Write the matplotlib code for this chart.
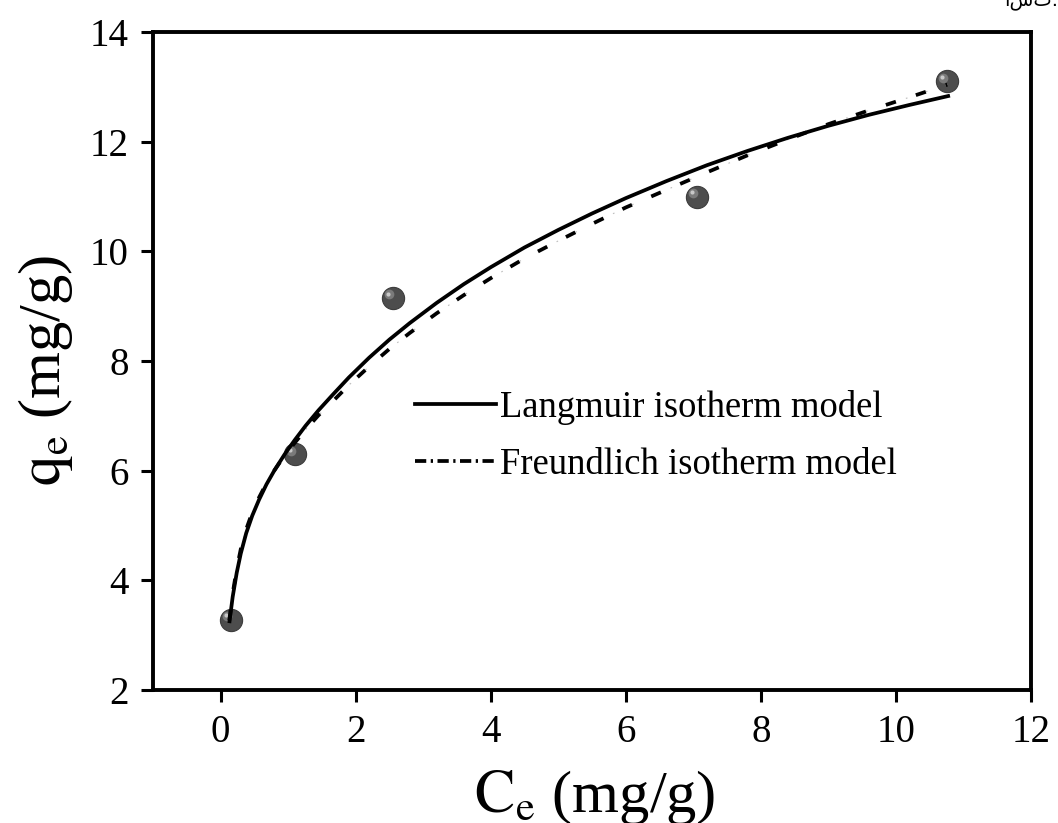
import matplotlib
matplotlib.use("Agg")
import matplotlib.pyplot as plt
import matplotlib.transforms as mtransforms
from matplotlib.lines import Line2D

# ---- data ----
ce_exp = [0.15, 1.10, 2.55, 7.05, 10.75]
qe_exp = [3.28, 6.30, 9.15, 11.00, 13.10]

ce_lang = [0.13, 0.18, 0.24, 0.30, 0.38, 0.47, 0.57, 0.68, 0.80, 0.95, 1.10,
           1.26, 1.45, 1.65, 1.90, 2.20, 2.50, 2.80, 3.20, 3.60, 4.00, 4.50,
           5.00, 5.50, 6.00, 6.60, 7.20, 7.80, 8.40, 9.00, 9.60, 10.20, 10.80]
qe_lang = [3.22, 3.70, 4.14, 4.49, 4.86, 5.18, 5.47, 5.75, 6.01, 6.30, 6.56,
           6.82, 7.10, 7.37, 7.70, 8.06, 8.39, 8.69, 9.06, 9.40, 9.71, 10.07,
           10.39, 10.69, 10.97, 11.28, 11.57, 11.83, 12.07, 12.29, 12.49, 12.67, 12.84]

ce_freu = [0.13, 0.18, 0.24, 0.30, 0.38, 0.47, 0.57, 0.68, 0.80, 0.95, 1.10,
           1.26, 1.45, 1.65, 1.90, 2.20, 2.50, 2.80, 3.20, 3.60, 4.00, 4.50,
           5.00, 5.50, 6.00, 6.60, 7.20, 7.80, 8.40, 9.00, 9.60, 10.20, 10.76]
qe_freu = [3.27, 3.76, 4.21, 4.57, 4.93, 5.24, 5.51, 5.77, 6.01, 6.28, 6.51,
           6.75, 7.01, 7.25, 7.56, 7.90, 8.22, 8.51, 8.87, 9.20, 9.51, 9.87,
           10.19, 10.50, 10.80, 11.12, 11.44, 11.75, 12.04, 12.32, 12.57, 12.81, 13.04]

x_ticks = [0, 2, 4, 6, 8, 10, 12]
y_ticks = [2, 4, 6, 8, 10, 12, 14]
legend_labels = ["Langmuir isotherm model", "Freundlich isotherm model"]

plt.rcParams['font.family'] = ['Liberation Serif', 'DejaVu Serif']
plt.rcParams['mathtext.fontset'] = 'stix'

fig = plt.figure(figsize=(10.58, 8.23), dpi=100)
ax = fig.add_axes([0.1446, 0.1616, 0.9745 - 0.1446, 0.9611 - 0.1616])

# markers (shaded spheres)
ax.plot(ce_exp, qe_exp, 'o', ms=16, mfc='#4d4d4d', mec='#3c3c3c', mew=0.8,
        zorder=2, ls='none')
hl = mtransforms.offset_copy(ax.transData, fig=fig, x=-2.5, y=2.5, units='points')
ax.plot(ce_exp, qe_exp, 'o', ms=7, mfc='#7a7a7a', mec='none', zorder=2.1,
        ls='none', transform=hl)
hl2 = mtransforms.offset_copy(ax.transData, fig=fig, x=-3.2, y=3.2, units='points')
ax.plot(ce_exp, qe_exp, 'o', ms=3, mfc='#c8c8c8', mec='none', zorder=2.2,
        ls='none', transform=hl2)

# model curves
ax.plot(ce_lang, qe_lang, color='black', lw=2.7, zorder=3,
        solid_capstyle='butt', solid_joinstyle='round')
ax.plot(ce_freu, qe_freu, color='black', lw=2.7, zorder=3,
        dashes=(2.8, 5.6), dash_capstyle='butt')
ax.plot(ce_freu, qe_freu, color='#bdbdbd', lw=0.8, zorder=2.9,
        dashes=(1.5, 17.4))

ax.set_xlim(-1, 12)
ax.set_ylim(2, 14)
ax.set_xticks(x_ticks)
ax.set_yticks(y_ticks)
ax.tick_params(direction='out', length=8.5, width=2.2, labelsize=28, pad=9)
for s in ax.spines.values():
    s.set_linewidth(2.8)

ax.set_xlabel(r'$\mathrm{C_e}$ (mg/g)', fontsize=43.5)
ax.set_ylabel(r'$\mathrm{q_e}$ (mg/g)', fontsize=43.5)
ax.xaxis.set_label_coords(0.503, -0.118)
ax.yaxis.set_label_coords(-0.089, 0.486)

h1 = Line2D([], [], color='black', lw=2.7)
h2 = Line2D([], [], color='black', lw=2.7, dashes=(3.0, 1.2, 0.6, 1.2))
ax.legend([h1, h2], legend_labels, loc='upper left',
          bbox_to_anchor=(0.298, 0.456), frameon=False, fontsize=26.4,
          handlelength=2.23, handletextpad=0.1, labelspacing=0.62,
          borderpad=0, borderaxespad=0)

fig.text(1.0, 1.0, 'است.', fontsize=14, family='DejaVu Sans',
         ha='right', va='center')

fig.savefig('out.png', dpi=100)
